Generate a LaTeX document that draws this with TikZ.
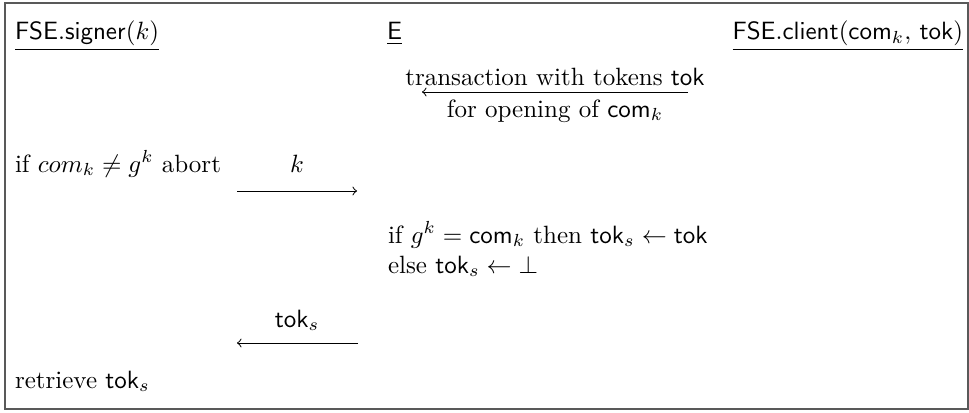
\documentclass[tikz,border=0pt]{standalone}
\usepackage{amsmath}
\begin{document}
\begin{tikzpicture}[x=0.4pt,y=-0.4pt,
  txt/.style={inner sep=0pt, outer sep=0pt},
  msg/.style={->, line width=0.4pt},
  frame/.style={draw=black!65, line width=0.6pt}]
\useasboundingbox (0,0) rectangle (969,413);
\draw[frame] (5,3) rectangle (968,409);
% headers
\node[txt, anchor=base west] (signer) at (15,40) {\underline{$\mathsf{FSE.signer}(k)$}};
\node[txt, anchor=base west] (E) at (387,40) {\underline{$\mathsf{E}$}};
\node[txt, anchor=base east] (client) at (963,40) {\underline{$\mathsf{FSE.client}(\mathsf{com}_k,\, \mathsf{tok})$}};
% transaction message
\coordinate (t1) at (688,92);
\coordinate (t2) at (422,92);
\draw[msg] (t1) -- (t2);
\node[txt, anchor=base] (ttop) at (555,85) {transaction with tokens $\mathsf{tok}$};
\node[txt, anchor=base] (tbot) at (555,117) {for opening of $\mathsf{com}_k$};
% signer check and message k
\node[txt, anchor=base west] (abort) at (15,172) {if $com_k \neq g^k$ abort};
\coordinate (k1) at (237,191);
\coordinate (k2) at (357,191);
\draw[msg] (k1) -- (k2);
\node[txt, anchor=base] (klab) at (297,172) {$k$};
% E check
\node[txt, anchor=base west] (cond1) at (388,243) {if $g^k = \mathsf{com}_k$ then $\mathsf{tok}_s \leftarrow \mathsf{tok}$};
\node[txt, anchor=base west] (cond2) at (388,273) {else $\mathsf{tok}_s \leftarrow \bot$};
% message tok_s
\coordinate (s1) at (358,343);
\coordinate (s2) at (237,343);
\draw[msg] (s1) -- (s2);
\node[txt, anchor=base] (slab) at (297,327) {$\mathsf{tok}_s$};
% retrieve
\node[txt, anchor=base west] (retr) at (15,388) {retrieve $\mathsf{tok}_s$};
\end{tikzpicture}
\end{document}
